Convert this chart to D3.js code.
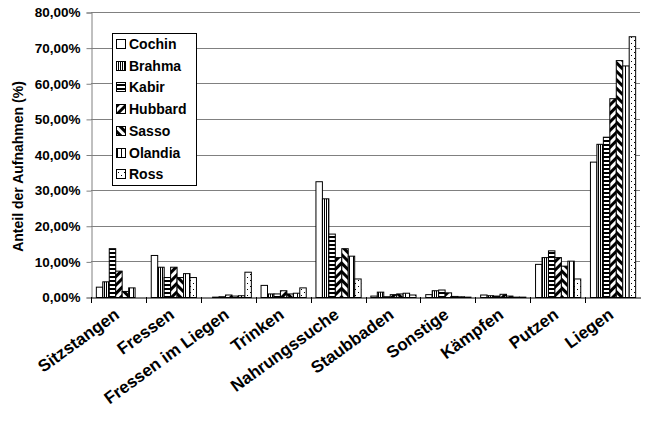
<!DOCTYPE html>
<html>
<head>
<meta charset="utf-8">
<script src="https://cdn.jsdelivr.net/npm/d3@7"></script>
<style>
  html, body { margin: 0; padding: 0; background: #fff; }
  svg { display: block; font-family: "Liberation Sans", Arial, sans-serif; font-weight: bold; }
</style>
</head>
<body>
<svg id="chart" width="650" height="421"></svg>
<script>
const categories = ["Sitzstangen", "Fressen", "Fressen im Liegen", "Trinken", "Nahrungssuche",
  "Staubbaden", "Sonstige", "Kämpfen", "Putzen", "Liegen"];
const series = ["Cochin", "Brahma", "Kabir", "Hubbard", "Sasso", "Olandia", "Ross"];
// values in percent, one array per series, in category order
const cochin  = [2.9, 11.8, 0.0, 3.4, 32.5, 0.4, 0.8, 0.7, 9.3, 38.0];
const brahma  = [4.4,  8.5, 0.1, 1.0, 27.7, 1.5, 1.9, 0.5, 11.2, 43.0];
const kabir   = [13.7, 5.6, 0.2, 1.0, 17.8, 0.2, 2.1, 0.4, 13.1, 45.0];
const hubbard = [7.4,  8.5, 0.7, 1.9, 11.2, 0.8, 1.3, 0.9, 11.2, 55.8];
const sasso   = [1.7,  5.6, 0.4, 1.0, 13.7, 1.0, 0.3, 0.4, 8.8, 66.5];
const olandia = [2.7,  6.7, 0.5, 1.2, 11.6, 1.2, 0.2, 0.1, 10.2, 65.0];
const ross    = [0.0,  5.6, 7.1, 2.7,  5.2, 0.7, 0.1, 0.1, 5.2, 73.2];
const yTicks  = [0, 10, 20, 30, 40, 50, 60, 70, 80];
const yTitle  = "Anteil der Aufnahmen (%)";

const valuesBySeries = [cochin, brahma, kabir, hubbard, sasso, olandia, ross];

const svg = d3.select("#chart");
const mLeft = 91, mRight = 640, mTop = 12, mBottom = 297;

const x = d3.scaleBand().domain(categories).range([mLeft, mRight]).padding(0);
const xs = d3.scaleBand().domain(series).range([0, x.bandwidth()]).paddingInner(0).paddingOuter(0.75);
const y = d3.scaleLinear().domain([0, 80]).range([mBottom, mTop]);

// patterns
const defs = svg.append("defs");
const pat = (id, w, h, build, transform) => {
  const p = defs.append("pattern").attr("id", id).attr("patternUnits", "userSpaceOnUse")
    .attr("width", w).attr("height", h);
  if (transform) p.attr("patternTransform", transform);
  p.append("rect").attr("width", w).attr("height", h).attr("fill", "#fff");
  build(p);
};
pat("p0", 4, 4, p => {});
pat("p1", 2, 4, p => p.append("rect").attr("x", 0).attr("width", 1).attr("height", 4).attr("fill", "#000"));
pat("p2", 4, 4, p => p.append("rect").attr("y", 0).attr("width", 4).attr("height", 2).attr("fill", "#000"));
pat("p3", 6, 6, p => p.append("rect").attr("x", 0).attr("width", 3).attr("height", 6).attr("fill", "#000"), "rotate(45)");
pat("p4", 6, 6, p => p.append("rect").attr("x", 0).attr("width", 3).attr("height", 6).attr("fill", "#000"), "rotate(-45)");
pat("p5", 4, 4, p => p.append("rect").attr("x", 1).attr("width", 1).attr("height", 4).attr("fill", "#000"));
pat("p6", 6, 6, p => {
  p.append("rect").attr("x", 1).attr("y", 1).attr("width", 1).attr("height", 1).attr("fill", "#000");
  p.append("rect").attr("x", 4).attr("y", 4).attr("width", 1).attr("height", 1).attr("fill", "#000");
});

// gridlines
svg.append("g").selectAll("line").data(yTicks.filter(t => t > 0)).join("line")
  .attr("x1", mLeft).attr("x2", mRight)
  .attr("y1", d => Math.round(y(d)) + 0.5).attr("y2", d => Math.round(y(d)) + 0.5)
  .attr("stroke", "#808080").attr("stroke-width", 1);

// y axis
const yAxis = d3.axisLeft(y).tickValues(yTicks).tickSize(5).tickPadding(6)
  .tickFormat(d => d.toFixed(2).replace(".", ",") + "%");
const gy = svg.append("g").attr("transform", `translate(${mLeft + 0.5},0.5)`).call(yAxis);
gy.select(".domain").attr("stroke", "#808080");
gy.selectAll(".tick line").attr("stroke", "#808080");
gy.selectAll("text").attr("font-size", 13.5).attr("font-weight", "bold").attr("fill", "#000")
  .attr("font-family", '"Liberation Sans", Arial, sans-serif');

// bars
const gBars = svg.append("g");
series.forEach((s, si) => {
  gBars.append("g").selectAll("rect").data(valuesBySeries[si].map((v, ci) => ({ v, c: categories[ci] })))
    .join("rect")
    .attr("x", d => x(d.c) + xs(s) + 0.5)
    .attr("y", d => y(d.v) + 0.5)
    .attr("width", xs.bandwidth())
    .attr("height", d => Math.max(0, mBottom - y(d.v)))
    .attr("fill", `url(#p${si})`)
    .attr("stroke", "#000").attr("stroke-width", 1);
});

// x axis
const xAxis = d3.axisBottom(x).tickSize(0).tickFormat("");
const gx = svg.append("g").attr("transform", `translate(0.5,${mBottom + 0.5})`).call(xAxis);
gx.select(".domain").attr("stroke", "#000");
svg.append("g").selectAll("line").data(categories).join("line")
  .attr("x1", d => Math.round(x(d)) + 0.5).attr("x2", d => Math.round(x(d)) + 0.5)
  .attr("y1", mBottom).attr("y2", mBottom + 6).attr("stroke", "#000");

// x labels
svg.append("g").selectAll("text").data(categories).join("text")
  .attr("transform", d => `translate(${x(d) + x.bandwidth() / 2 + 2},${mBottom + 20}) rotate(-36)`)
  .attr("text-anchor", "end").attr("font-size", 17).attr("fill", "#000")
  .text(d => d);

// y title
svg.append("text")
  .attr("transform", `translate(23,${(mTop + mBottom) / 2 + 12}) rotate(-90)`)
  .attr("text-anchor", "middle").attr("font-size", 14).attr("fill", "#000")
  .text(yTitle);

// legend
const lg = svg.append("g");
lg.append("rect").attr("x", 112.5).attr("y", 33.5).attr("width", 84).attr("height", 152)
  .attr("fill", "#fff").attr("stroke", "#000");
series.forEach((s, i) => {
  const cy = 44 + i * 21.7;
  lg.append("rect").attr("x", 116.5).attr("y", Math.round(cy - 5) + 0.5).attr("width", 9).attr("height", 9)
    .attr("fill", `url(#p${i})`).attr("stroke", "#000");
  lg.append("text").attr("x", 129).attr("y", cy + 5).attr("font-size", 14).attr("fill", "#000").text(s);
});
</script>
</body>
</html>
